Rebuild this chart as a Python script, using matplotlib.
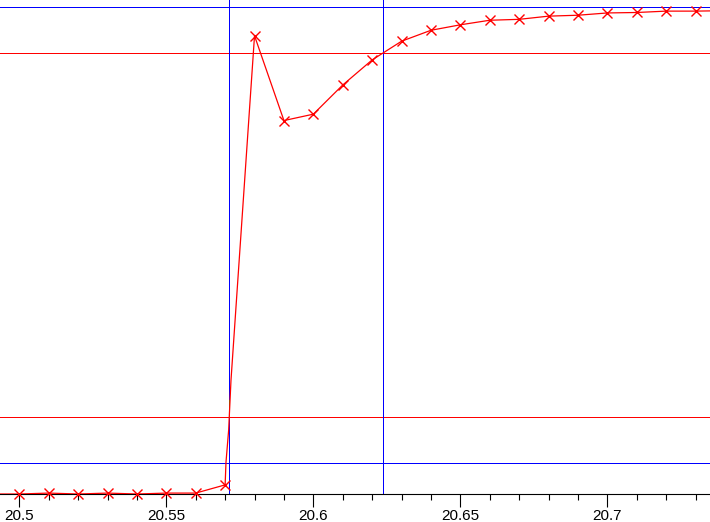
import matplotlib.pyplot as plt
from matplotlib.ticker import MultipleLocator, FixedLocator, FixedFormatter

plt.rcParams['font.family'] = ['Liberation Sans', 'DejaVu Sans']

# sampled points (marked), x in time units, y normalised (0 = low level, 1 = high level)
t_marked = [20.50, 20.51, 20.52, 20.53, 20.54, 20.55, 20.56, 20.57, 20.58, 20.59,
            20.60, 20.61, 20.62, 20.63, 20.64, 20.65, 20.66, 20.67, 20.68, 20.69,
            20.70, 20.71, 20.72, 20.73]
y_marked = [-0.068, -0.066, -0.068, -0.066, -0.068, -0.066, -0.066, -0.048, 0.937, 0.751,
            0.765, 0.829, 0.884, 0.925, 0.949, 0.961, 0.971, 0.973, 0.980, 0.982,
            0.987, 0.988, 0.991, 0.991]

# full trace incl. interpolated edge points around the step and the off-screen ends
t_trace = [20.49, 20.50, 20.51, 20.52, 20.53, 20.54, 20.55, 20.56, 20.57, 20.5703,
           20.5712, 20.5714, 20.572, 20.58, 20.59, 20.60, 20.61, 20.62, 20.63, 20.64,
           20.65, 20.66, 20.67, 20.68, 20.69, 20.70, 20.71, 20.72, 20.73, 20.74]
y_trace = [-0.068, -0.068, -0.066, -0.068, -0.066, -0.068, -0.066, -0.066, -0.048, 0.002,
           0.072, 0.10, 0.182, 0.937, 0.751, 0.765, 0.829, 0.884, 0.925, 0.949,
           0.961, 0.971, 0.973, 0.980, 0.982, 0.987, 0.988, 0.991, 0.991, 0.992]

levels_blue = [0.0, 1.0]
levels_red = [0.1, 0.9]
cursor_t = [20.5714, 20.6238]

ticks_major = [20.5, 20.55, 20.6, 20.65, 20.7]
tick_labels = ["20.5", "20.55", "20.6", "20.65", "20.7"]

fig = plt.figure(figsize=(7.1, 5.22), dpi=100)
ax = fig.add_axes([0, 28 / 522, 1, 494 / 522])

px = 0.72  # one pixel in points
for lv in levels_blue:
    ax.axhline(lv, color='#0000ff', lw=px, zorder=1, antialiased=False)
for lv in levels_red:
    ax.axhline(lv, color='#ff0000', lw=px, zorder=1, antialiased=False)
for ct in cursor_t:
    ax.axvline(ct, color='#0000ff', lw=px, zorder=1, antialiased=False)
ax.plot([cursor_t[0], cursor_t[0]], [0.1, 0.138], color='#00cc00', lw=px, zorder=2,
        antialiased=False)

ax.plot(t_trace, y_trace, color='#ff0000', lw=0.9, zorder=3)
ax.plot(t_marked, y_marked, linestyle='none', marker='x', color='#ff0000',
        markersize=6.5, markeredgewidth=1.0, zorder=4, clip_on=False)

ax.set_xlim(20.49344, 20.7349)
ax.set_ylim(-0.068, 1.0154)

for s in ['left', 'right', 'top']:
    ax.spines[s].set_visible(False)
ax.spines['bottom'].set_linewidth(0.8)
ax.set_yticks([])
ax.xaxis.set_major_locator(FixedLocator(ticks_major))
ax.xaxis.set_major_formatter(FixedFormatter(tick_labels))
ax.xaxis.set_minor_locator(MultipleLocator(0.01))
ax.tick_params(axis='x', which='major', length=9.5, width=0.8, pad=1, labelsize=11)
ax.tick_params(axis='x', which='minor', length=4.3, width=0.8)

fig.savefig('out.png', dpi=100)
